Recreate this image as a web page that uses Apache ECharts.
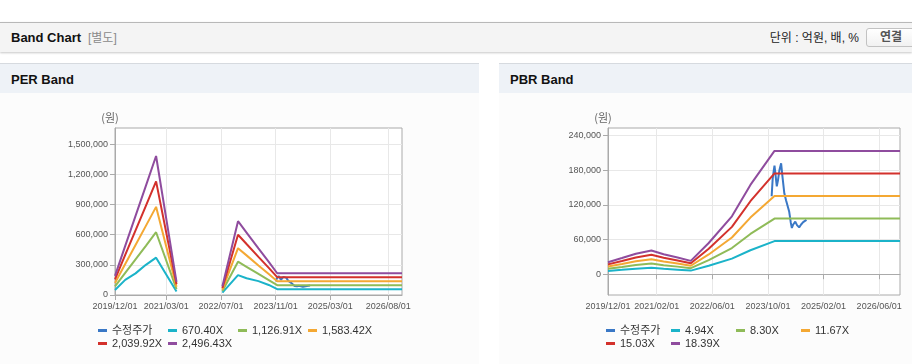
<!DOCTYPE html>
<html>
<head>
<meta charset="utf-8">
<script src="https://cdn.jsdelivr.net/npm/echarts@6/dist/echarts.min.js"></script>
<style>
html,body{margin:0;padding:0;width:912px;height:364px;overflow:hidden;background:#fff;font-family:"Liberation Sans","Noto Sans CJK KR",sans-serif;}
#topbar{position:absolute;left:0;top:22px;width:912px;height:29px;background:#f4f4f4;border-top:1px solid #b8b8b8;box-shadow:0 1px 2px rgba(0,0,0,0.22);}
#topbar .title{position:absolute;left:11px;top:0;line-height:30px;font-size:13px;font-weight:bold;color:#111;}
#topbar .sub{position:absolute;left:88px;top:0;line-height:30px;font-size:12px;color:#8a8a8a;}
#topbar .unit{position:absolute;right:53px;top:0;line-height:31px;font-size:12px;color:#222;}
#topbar .btn{position:absolute;left:866px;top:5px;width:50px;height:19px;box-sizing:border-box;border:1px solid #c2c2c2;border-radius:3px;background:linear-gradient(#ffffff,#f1f1f1);font-size:12px;font-weight:bold;color:#555;line-height:17px;text-align:center;}
.panel{position:absolute;top:63px;height:301px;background:#fcfcfc;}
.panel .ph{position:absolute;left:0;top:0;width:100%;height:29px;border-top:1px solid #d6dadf;background:#eef2f7;}
.panel .ph span{position:absolute;left:11px;top:0;line-height:32px;font-size:13px;font-weight:bold;color:#111;}
.panel .chart{position:absolute;left:0;top:30px;width:100%;height:271px;}
</style>
</head>
<body>
<div id="topbar">
  <div class="title">Band Chart</div>
  <div class="sub">[별도]</div>
  <div class="unit">단위 : 억원, 배, %</div>
  <div class="btn">연결</div>
</div>
<div class="panel" style="left:0;width:479px;">
  <div class="ph"><span>PER Band</span></div>
  <div class="chart" id="per"></div>
</div>
<div class="panel" style="left:499px;width:413px;">
  <div class="ph"><span>PBR Band</span></div>
  <div class="chart" id="pbr"></div>
</div>
<script>
// ---------- data ----------
const axisStart = [2019, 12];
const axisEnd = [2026, 12];

const perXLabels = ['2019/12/01','2021/03/01','2022/07/01','2023/11/01','2025/03/01','2026/08/01'];
const pbrXLabels = ['2019/12/01','2021/02/01','2022/06/01','2023/10/01','2025/02/01','2026/06/01'];

const perYTicks = [0,300000,600000,900000,1200000,1500000];
const pbrYTicks = [0,60000,120000,180000,240000];

const perNames = ['수정주가','670.40X','1,126.91X','1,583.42X','2,039.92X','2,496.43X'];
const pbrNames = ['수정주가','4.94X','8.30X','11.67X','15.03X','18.39X'];

// adjusted share price (수정주가)
const priceDates = ['2023-11-03','2023-11-12','2023-11-22','2023-11-28','2023-12-08','2023-12-18','2023-12-28',
  '2024-01-10','2024-01-25','2024-02-05','2024-02-22','2024-03-08','2024-03-22','2024-04-05','2024-04-18',
  '2024-04-28','2024-05-10','2024-05-28','2024-06-12','2024-07-01','2024-07-18','2024-08-05','2024-08-20','2024-09-03'];
const priceValues = [135000,165000,180000,188000,170000,152000,162000,
  180000,192000,170000,140000,128000,118000,108000,90000,
  80000,86000,91000,85000,81000,86000,90000,92000,94000];

// PER band
const perDates = ['2019-12-01','2020-03-01','2020-06-01','2020-09-01','2020-12-01','2021-06-01',
  '2022-01-01','2022-07-15','2022-12-01','2023-02-15','2023-06-01','2023-09-01','2023-11-15','2026-12-01'];
const per670  = [50000,150000,215000,300000,371000,35000,null,23000,197000,166000,138000,100000,58000,58000];
const per1126 = [85000,220000,355000,489000,624000,59000,null,39000,331000,280000,209000,148000,98000,98000];
const per1583 = [120000,309000,498000,687000,876000,83000,null,54000,465000,394000,294000,209000,137000,137000];
const per2039 = [155000,399000,642000,886000,1129000,107000,null,70000,599000,507000,379000,269000,177000,177000];
const per2496 = [190000,488000,786000,1084000,1382000,130000,null,86000,734000,621000,464000,329000,216000,216000];

// PBR band
const pbrDates = ['2019-12-01','2020-04-01','2020-08-01','2020-12-15','2021-04-01','2021-08-01','2021-11-25',
  '2022-05-01','2022-11-20','2023-05-01','2023-11-28','2026-12-01'];
const pbr494 = [5600,7500,9500,11000,9300,7800,6200,14500,26900,41500,57300,57300];
const pbr830 = [9400,12600,16000,18500,15600,13100,10400,24400,45200,69700,96300,96300];
const pbr1167 = [13200,17700,22400,26000,22000,18400,14600,34200,63500,98000,135300,135300];
const pbr1503 = [17000,22800,28900,33500,28300,23700,18900,44100,81900,126300,174400,174400];
const pbr1839 = [20800,27900,35400,41000,34600,29000,23100,54000,100100,154500,213300,213300];

const colors = ['#3a78c6','#1bb3c9','#8fbb58','#f4a833','#d3312c','#8f4c9e'];

// ---------- build ----------
function monthCategories(){
  const out = [];
  let y = axisStart[0], m = axisStart[1];
  while (y < axisEnd[0] || (y === axisEnd[0] && m <= axisEnd[1])) {
    out.push(y + '/' + String(m).padStart(2,'0') + '/01');
    m++; if (m > 12) { m = 1; y++; }
  }
  return out;
}
const cats = monthCategories();
const tMin = axisStart[0] + '-' + String(axisStart[1]).padStart(2,'0') + '-01';
const tMax = axisEnd[0] + '-' + String(axisEnd[1]).padStart(2,'0') + '-01';
const zip = (d, v) => d.map((x, i) => [x, v[i]]);

function build(cfg){
  const labelFn = (idx, val) => cfg.xLabels.indexOf(val) >= 0;
  const axisFont = {fontFamily:'Liberation Sans', fontSize:9, color:'#555'};
  const series = [zip(priceDates, priceValues)].concat(cfg.bands.map(b => zip(cfg.dates, b)));
  return {
    animation:false,
    color:colors,
    grid:{left:cfg.grid[0], top:cfg.grid[1], width:cfg.grid[2], height:cfg.grid[3], show:true,
      backgroundColor:'#fff', borderColor:'#aaaaaa', borderWidth:1, outerBoundsMode:'none', containLabel:false},
    graphic:[{type:'text', x:cfg.unitX, y:25, style:{text:'(원)', fill:'#666', font:'11px "Noto Sans CJK KR", sans-serif', textAlign:'center', textVerticalAlign:'middle'}}],
    legend:{
      left:cfg.legend[0], top:231, width:cfg.legend[1], orient:'horizontal',
      icon:'rect', itemWidth:9, itemHeight:3, itemGap:0, padding:0,
      textStyle:{fontFamily:'"Liberation Sans","Noto Sans CJK KR"', fontSize:11, color:'#333', width:cfg.legend[2], lineHeight:13, overflow:'none'},
      data:cfg.names
    },
    xAxis:[
      {type:'category', data:cats, boundaryGap:false,
        axisLine:{lineStyle:{color:'#aaaaaa'}},
        axisTick:{show:true, length:5, interval:labelFn, lineStyle:{color:'#aaaaaa'}},
        axisLabel:{interval:labelFn, margin:7, ...axisFont},
        splitLine:{show:true, interval:labelFn, lineStyle:{color:'#e8e8e8'}}},
      {type:'time', min:tMin, max:tMax, show:false}
    ],
    yAxis:{type:'value', min:cfg.yMin, max:cfg.yMax,
      axisLine:{show:true, lineStyle:{color:'#aaaaaa'}},
      axisTick:{show:true, length:5, customValues:cfg.yTicks, lineStyle:{color:'#aaaaaa'}},
      axisLabel:{customValues:cfg.yTicks, margin:7, formatter:v => v.toLocaleString('en-US'), ...axisFont},
      splitLine:{show:true, lineStyle:{color:'#e8e8e8'}}},
    series: series.map((d, i) => ({
      name:cfg.names[i], type:'line', xAxisIndex:1, data:d, showSymbol:false, symbol:'none',
      connectNulls:false, lineStyle:{width:2, color:colors[i]}, itemStyle:{color:colors[i]}, emphasis:{disabled:true}
    }))
  };
}

const perChart = echarts.init(document.getElementById('per'));
perChart.setOption(build({
  grid:[115,35,287,167], xLabels:perXLabels, yMin:0, yMax:1660000, yTicks:perYTicks,
  names:perNames, dates:perDates, bands:[per670,per1126,per1583,per2039,per2496],
  legend:[98,290,56], unitX:110
}));
const pbrChart = echarts.init(document.getElementById('pbr'));
pbrChart.setOption(build({
  grid:[109,35,292,167], xLabels:pbrXLabels, yMin:-36000, yMax:253000, yTicks:pbrYTicks,
  names:pbrNames, dates:pbrDates, bands:[pbr494,pbr830,pbr1167,pbr1503,pbr1839],
  legend:[107,270,51], unitX:104
}));
</script>
</body>
</html>
